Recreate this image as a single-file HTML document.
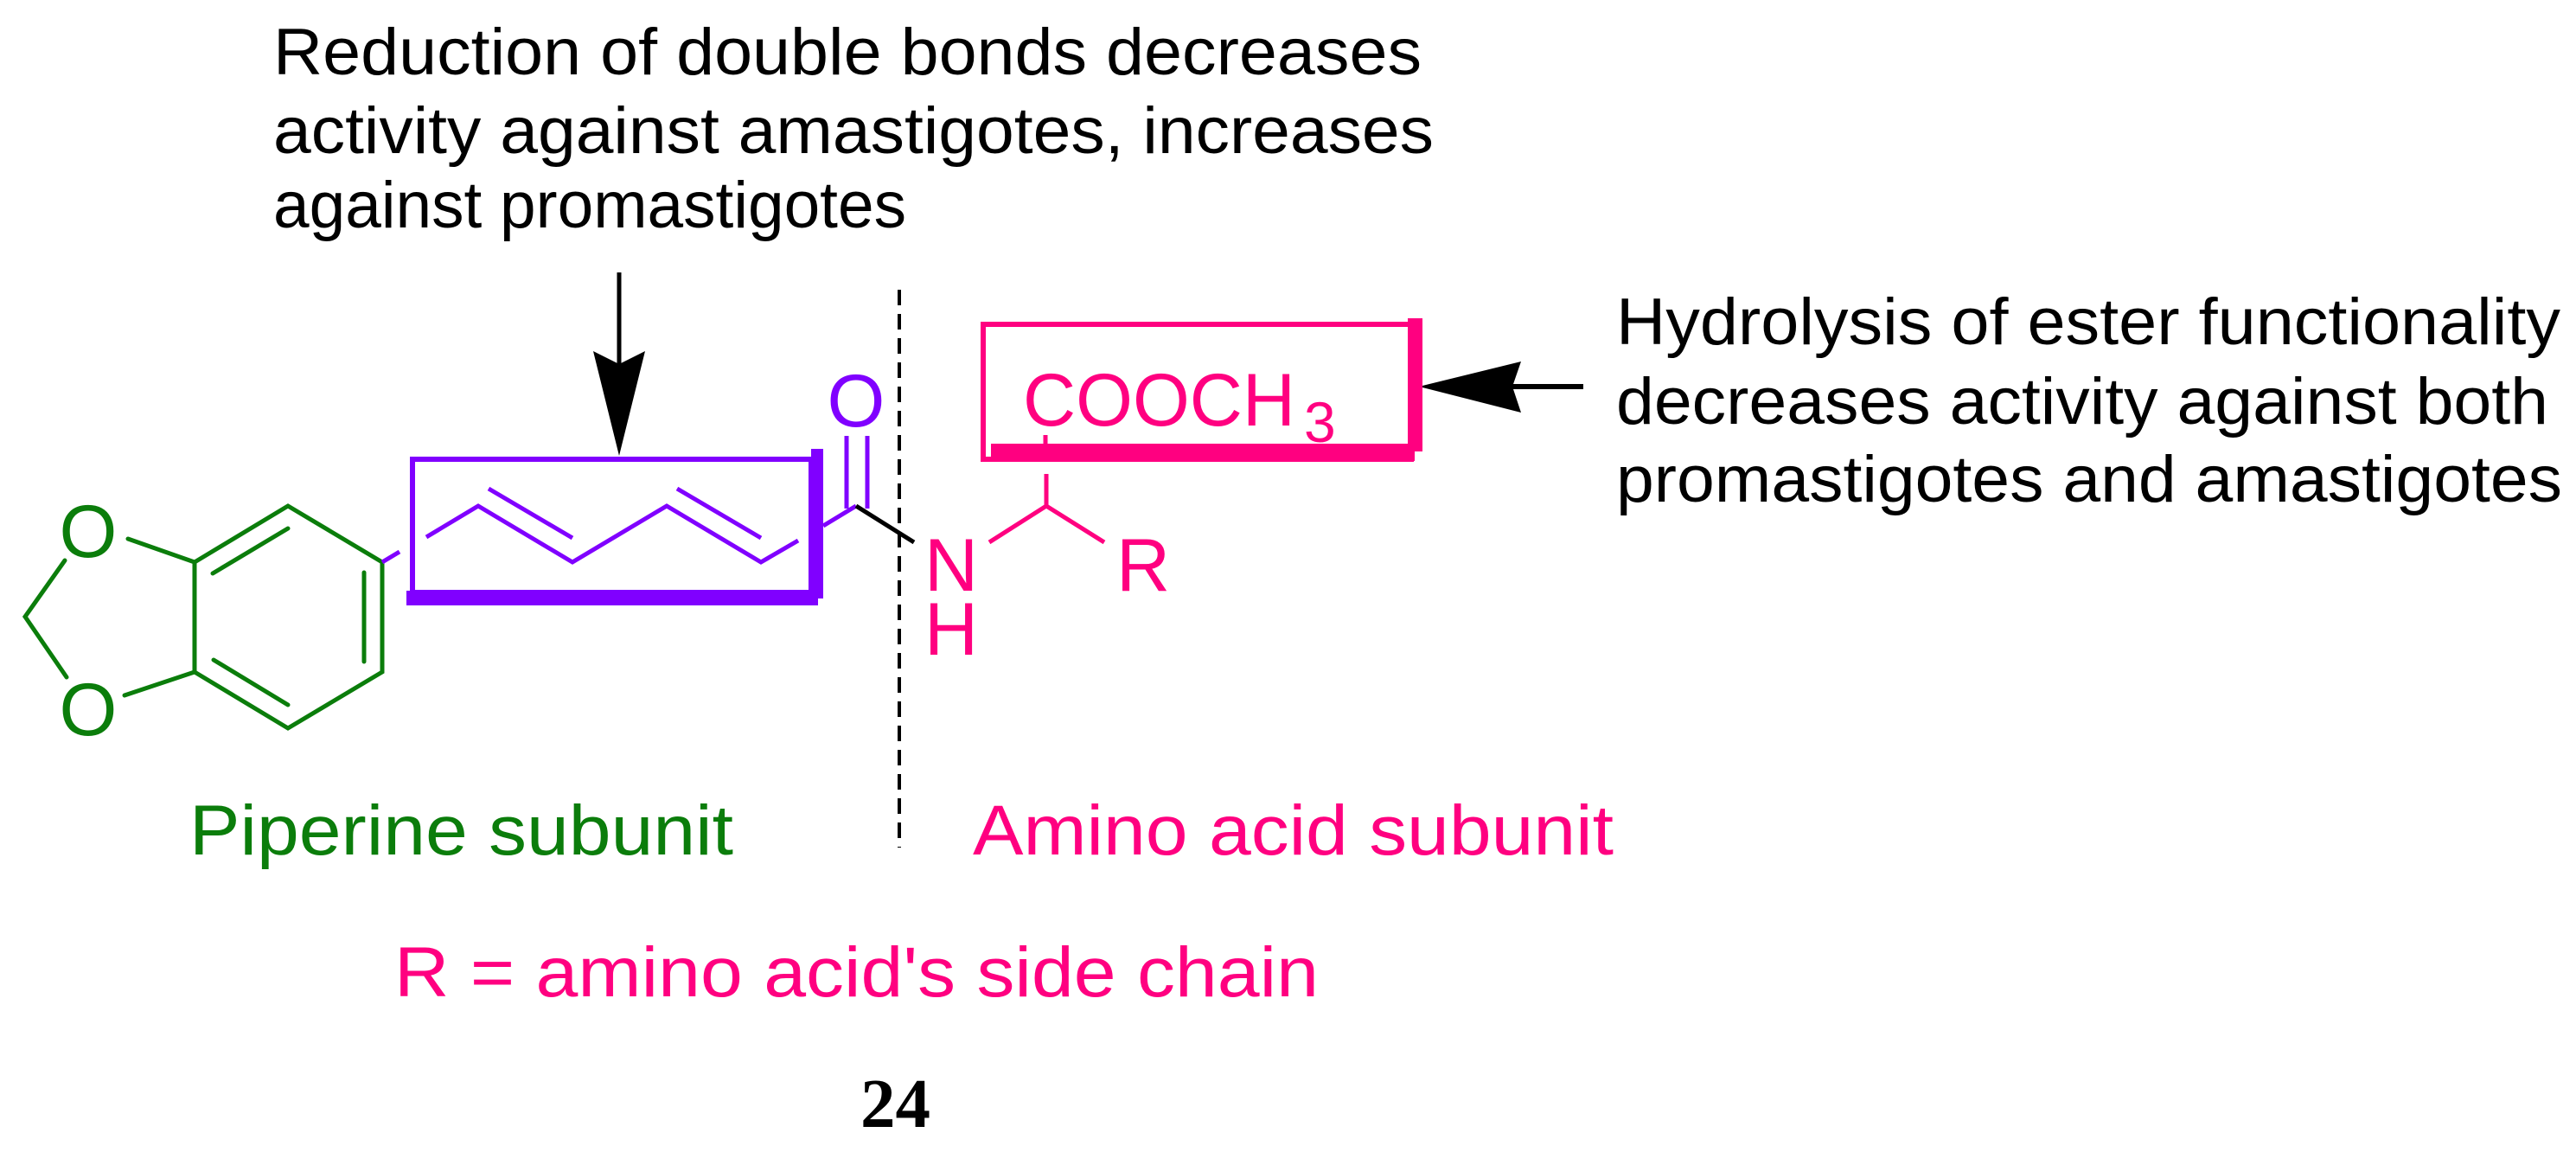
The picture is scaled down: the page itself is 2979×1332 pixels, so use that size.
<!DOCTYPE html>
<html><head><meta charset="utf-8"><style>html,body{margin:0;padding:0;background:#fff}svg{display:block}</style></head>
<body>
<svg width="2979" height="1332" viewBox="0 0 2979 1332" xmlns="http://www.w3.org/2000/svg" font-family="'Liberation Sans', sans-serif">
<rect width="2979" height="1332" fill="#fff"/>
<g font-size="76" fill="#000">
<text x="316" y="86" textLength="1328" lengthAdjust="spacingAndGlyphs">Reduction of double bonds decreases</text>
<text x="316" y="177" textLength="1342" lengthAdjust="spacingAndGlyphs">activity against amastigotes, increases</text>
<text x="316" y="263" textLength="732" lengthAdjust="spacingAndGlyphs">against promastigotes</text>
</g>
<g font-size="76" fill="#000">
<text x="1869" y="398" textLength="1092" lengthAdjust="spacingAndGlyphs">Hydrolysis of ester functionality</text>
<text x="1869" y="490" textLength="1078" lengthAdjust="spacingAndGlyphs">decreases activity against both</text>
<text x="1869" y="580" textLength="1094" lengthAdjust="spacingAndGlyphs">promastigotes and amastigotes</text>
</g>
<line x1="716" y1="315" x2="716" y2="425" stroke="#000" stroke-width="5"/>
<polygon points="686,406 716,421 746,406 716,527" fill="#000"/>
<line x1="1740" y1="447" x2="1831" y2="447" stroke="#000" stroke-width="6"/>
<polygon points="1641,447 1759,418 1749,447 1759,477" fill="#000"/>
<line x1="1040" y1="335" x2="1040" y2="980" stroke="#000" stroke-width="4" stroke-dasharray="18,10"/>
<g stroke="#0b7d0b" stroke-width="5" fill="none" stroke-linecap="round">
<polygon points="333,585 442,650 442,777 333,842 225,777 225,650"/>
<line x1="246" y1="663" x2="333" y2="611"/>
<line x1="421" y1="662" x2="421" y2="765"/>
<line x1="247" y1="763" x2="333" y2="815"/>
<line x1="148" y1="623" x2="225" y2="650"/>
<line x1="144" y1="804" x2="225" y2="777"/>
<polyline points="75,648 29,713 77,783"/>
</g>
<g font-size="86" fill="#0b7d0b" text-anchor="middle">
<text x="102" y="644">O</text>
<text x="102" y="850">O</text>
</g>
<g stroke="#8000ff" stroke-width="5" fill="none">
<line x1="442" y1="650" x2="462" y2="638"/>
<polyline points="493,621 553,585 662,650 771,585 880,650 923,625"/>
<line x1="565" y1="565" x2="662" y2="622"/>
<line x1="783" y1="565" x2="880" y2="622"/>
<rect x="477" y="531" width="461" height="154" stroke-width="6"/>
<line x1="952" y1="608" x2="990" y2="585"/>
<line x1="979" y1="504" x2="979" y2="588"/>
<line x1="1003" y1="504" x2="1003" y2="588"/>
</g>
<rect x="470" y="683" width="476" height="17" fill="#8000ff"/>
<rect x="938" y="519" width="14" height="173" fill="#8000ff"/>
<text x="990" y="493" font-size="86" fill="#8000ff" text-anchor="middle">O</text>
<line x1="990" y1="585" x2="1057" y2="627" stroke="#000" stroke-width="5"/>
<g stroke="#ff0080" stroke-width="5" fill="none">
<line x1="1144" y1="627" x2="1210" y2="585"/>
<line x1="1210" y1="585" x2="1277" y2="627"/>
<line x1="1210" y1="548" x2="1210" y2="585"/>
<line x1="1209" y1="503" x2="1209" y2="513"/>
<rect x="1137" y="375" width="495" height="156" stroke-width="6"/>
</g>
<rect x="1146" y="513" width="490" height="20" fill="#ff0080"/>
<rect x="1628" y="368" width="17" height="154" fill="#ff0080"/>
<g fill="#ff0080" font-size="86">
<text x="1183" y="492" textLength="315" lengthAdjust="spacingAndGlyphs">COOCH</text>
<text x="1508" y="511" font-size="66">3</text>
<text x="1100" y="683" text-anchor="middle">N</text>
<text x="1100" y="757" text-anchor="middle">H</text>
<text x="1322" y="683" text-anchor="middle">R</text>
</g>
<text x="219" y="988" font-size="82" fill="#0b7d0b" textLength="629" lengthAdjust="spacingAndGlyphs">Piperine subunit</text>
<text x="1125" y="988" font-size="82" fill="#ff0080" textLength="741" lengthAdjust="spacingAndGlyphs">Amino acid subunit</text>
<text x="456" y="1152" font-size="82" fill="#ff0080" textLength="1069" lengthAdjust="spacingAndGlyphs">R = amino acid's side chain</text>
<text x="995" y="1303" font-size="80" font-weight="bold" font-family="'Liberation Serif', serif" textLength="81" lengthAdjust="spacingAndGlyphs">24</text>
</svg>
</body></html>
